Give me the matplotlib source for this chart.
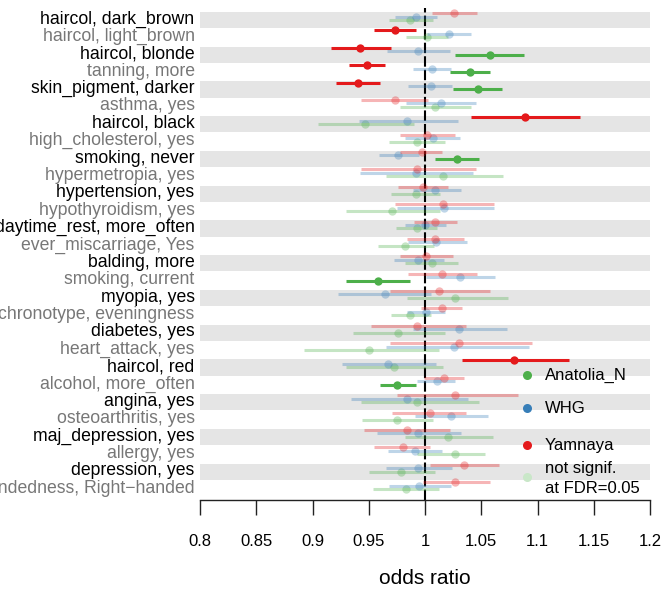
import matplotlib
matplotlib.use("Agg")
import matplotlib.pyplot as plt
import numpy as np

plt.rcParams["font.family"] = ["Liberation Sans", "DejaVu Sans"]

# trait rows, top to bottom
labels = [
    "haircol, dark_brown", "haircol, light_brown", "haircol, blonde",
    "tanning, more", "skin_pigment, darker", "asthma, yes", "haircol, black",
    "high_cholesterol, yes", "smoking, never", "hypermetropia, yes",
    "hypertension, yes", "hypothyroidism, yes", "daytime_rest, more_often",
    "ever_miscarriage, Yes", "balding, more", "smoking, current",
    "myopia, yes", "chronotype, eveningness", "diabetes, yes",
    "heart_attack, yes", "haircol, red", "alcohol, more_often", "angina, yes",
    "osteoarthritis, yes", "maj_depression, yes", "allergy, yes",
    "depression, yes", "handedness, Right\u2212handed",
]

# Yamnaya: odds ratio, 95% CI
yam_or = [1.026, 0.973, 0.942, 0.948, 0.940, 0.973, 1.089, 1.002, 0.997, 0.993,
          0.998, 1.016, 1.009, 1.009, 1.001, 1.015, 1.012, 1.015, 0.993, 1.030,
          1.079, 1.017, 1.027, 1.004, 0.984, 0.980, 1.035, 1.027]
yam_lo = [1.006, 0.955, 0.916, 0.932, 0.921, 0.943, 1.041, 0.978, 0.978, 0.943,
          0.976, 0.973, 0.990, 0.984, 0.978, 0.985, 0.969, 0.996, 0.952, 0.969,
          1.033, 0.999, 0.975, 0.971, 0.946, 0.955, 1.004, 0.998]
yam_hi = [1.046, 0.992, 0.970, 0.964, 0.960, 1.003, 1.138, 1.027, 1.015, 1.045,
          1.020, 1.061, 1.028, 1.035, 1.025, 1.046, 1.058, 1.033, 1.036, 1.095,
          1.128, 1.035, 1.083, 1.036, 1.022, 1.004, 1.066, 1.058]
yam_sig = [0, 1, 1, 1, 1, 0, 1, 0, 0, 0, 0, 0, 0, 0, 0, 0, 0, 0, 0, 0,
           1, 0, 0, 0, 0, 0, 0, 0]

# WHG
whg_or = [0.992, 1.021, 0.994, 1.006, 1.005, 1.014, 0.984, 1.007, 0.976, 0.992,
          1.009, 1.017, 1.000, 1.010, 0.994, 1.031, 0.964, 1.001, 1.030, 1.026,
          0.967, 1.011, 0.984, 1.023, 0.994, 0.991, 0.994, 0.995]
whg_lo = [0.973, 1.002, 0.966, 0.989, 0.985, 0.983, 0.941, 0.982, 0.959, 0.942,
          0.989, 0.975, 0.982, 0.985, 0.972, 1.001, 0.923, 0.984, 0.989, 0.965,
          0.926, 0.993, 0.934, 0.991, 0.957, 0.967, 0.965, 0.968]
whg_hi = [1.011, 1.041, 1.022, 1.023, 1.024, 1.045, 1.029, 1.031, 0.995, 1.043,
          1.032, 1.061, 1.019, 1.037, 1.017, 1.062, 1.005, 1.018, 1.073, 1.092,
          1.010, 1.027, 1.038, 1.056, 1.032, 1.015, 1.024, 1.023]
whg_sig = [0] * 28

# Anatolia_N
ana_or = [0.987, 1.002, 1.058, 1.040, 1.047, 1.009, 0.947, 0.993, 1.028, 1.016,
          0.992, 0.971, 0.993, 0.982, 1.006, 0.958, 1.027, 0.987, 0.976, 0.950,
          0.972, 0.975, 0.993, 0.975, 1.020, 1.027, 0.979, 0.983]
ana_lo = [0.968, 0.983, 1.027, 1.022, 1.025, 0.978, 0.905, 0.968, 1.009, 0.965,
          0.970, 0.930, 0.974, 0.958, 0.982, 0.930, 0.984, 0.970, 0.936, 0.892,
          0.930, 0.960, 0.943, 0.944, 0.982, 0.993, 0.950, 0.954]
ana_hi = [1.007, 1.020, 1.088, 1.058, 1.068, 1.041, 0.990, 1.018, 1.048, 1.069,
          1.013, 1.013, 1.011, 1.008, 1.029, 0.987, 1.074, 1.005, 1.018, 1.012,
          1.016, 0.992, 1.048, 1.007, 1.060, 1.053, 1.009, 1.012]
ana_sig = [0, 0, 1, 1, 1, 0, 0, 0, 1, 0, 0, 0, 0, 0, 0, 1, 0, 0, 0, 0,
           0, 1, 0, 0, 0, 0, 0, 0]

xticks = [0.8, 0.85, 0.9, 0.95, 1.0, 1.05, 1.1, 1.15, 1.2]
xticklabels = ["0.8", "0.85", "0.9", "0.95", "1", "1.05", "1.1", "1.15", "1.2"]

RED, BLUE, GREEN = "#E41A1C", "#377EB8", "#4DAF4A"
GREEN_NS = "#C9E7C8"

fig = plt.figure(figsize=(6.62, 5.95), dpi=100)
ax = fig.add_axes([200 / 662, 95 / 595, 450 / 662, 492 / 595])

n = len(labels)
rows = np.arange(n)

# alternating grey bands behind every other row
for i in rows[::2]:
    ax.fill_between([0.8, 1.2], i - 0.47, i + 0.47, color="#E5E5E5", lw=0, zorder=0)

ax.axvline(1.0, color="black", lw=1.5, ls=(0, (5, 1.5)), zorder=1)

series = [
    (ana_or, ana_lo, ana_hi, ana_sig, GREEN, 0.0),
    (whg_or, whg_lo, whg_hi, whg_sig, BLUE, -0.2),
    (yam_or, yam_lo, yam_hi, yam_sig, RED, -0.4),
]

# non-significant estimates first (faded), significant ones on top
for want in (0, 1):
    for est, lo, hi, sig, col, off in series:
        for i in rows:
            if sig[i] != want:
                continue
            alpha = 1.0 if sig[i] else 0.32
            y = i + off
            ax.plot([lo[i], hi[i]], [y, y], color=col, lw=2.2, alpha=alpha,
                    solid_capstyle="butt", zorder=2 + want)
            ax.plot(est[i], y, "o", color=col, ms=6, mec="none", alpha=alpha,
                    zorder=2 + want)

for i in rows:
    ax.text(-0.012, i - 0.05, labels[i], transform=ax.get_yaxis_transform(),
            ha="right", va="center", fontsize=12.7,
            color="black" if i % 2 == 0 else "#777777", clip_on=False)

ax.set_xlim(0.8, 1.2)
ax.set_ylim(27.63, -0.69)
ax.set_xticks(xticks)
ax.set_xticklabels(xticklabels, fontsize=12)
ax.set_yticks([])
ax.tick_params(axis="x", length=10.8, width=1.0, pad=14, color="#222222")
for s in ("top", "left", "right"):
    ax.spines[s].set_visible(False)
ax.spines["bottom"].set_linewidth(1.0)
ax.spines["bottom"].set_color("#222222")

# legend, drawn straight onto the plot area
leg = [("Anatolia_N", GREEN, 20.44), ("WHG", BLUE, 22.34), ("Yamnaya", RED, 24.47)]
for name, col, y in leg:
    ax.plot(1.0907, y, "o", color=col, ms=6.5, mec="none", clip_on=False, zorder=4)
    ax.text(1.1067, y, name, fontsize=12, ha="left", va="center")
ax.plot(1.0907, 26.31, "o", color=GREEN_NS, ms=6.5, mec="none", clip_on=False, zorder=4)
ax.text(1.1067, 25.79, "not signif.", fontsize=12, ha="left", va="center")
ax.text(1.1067, 26.94, "at FDR=0.05", fontsize=12, ha="left", va="center")

fig.text(425 / 662, 1 - 578 / 595, "odds ratio", fontsize=15, ha="center", va="center")

fig.savefig("out.png", dpi=100, facecolor="white")
